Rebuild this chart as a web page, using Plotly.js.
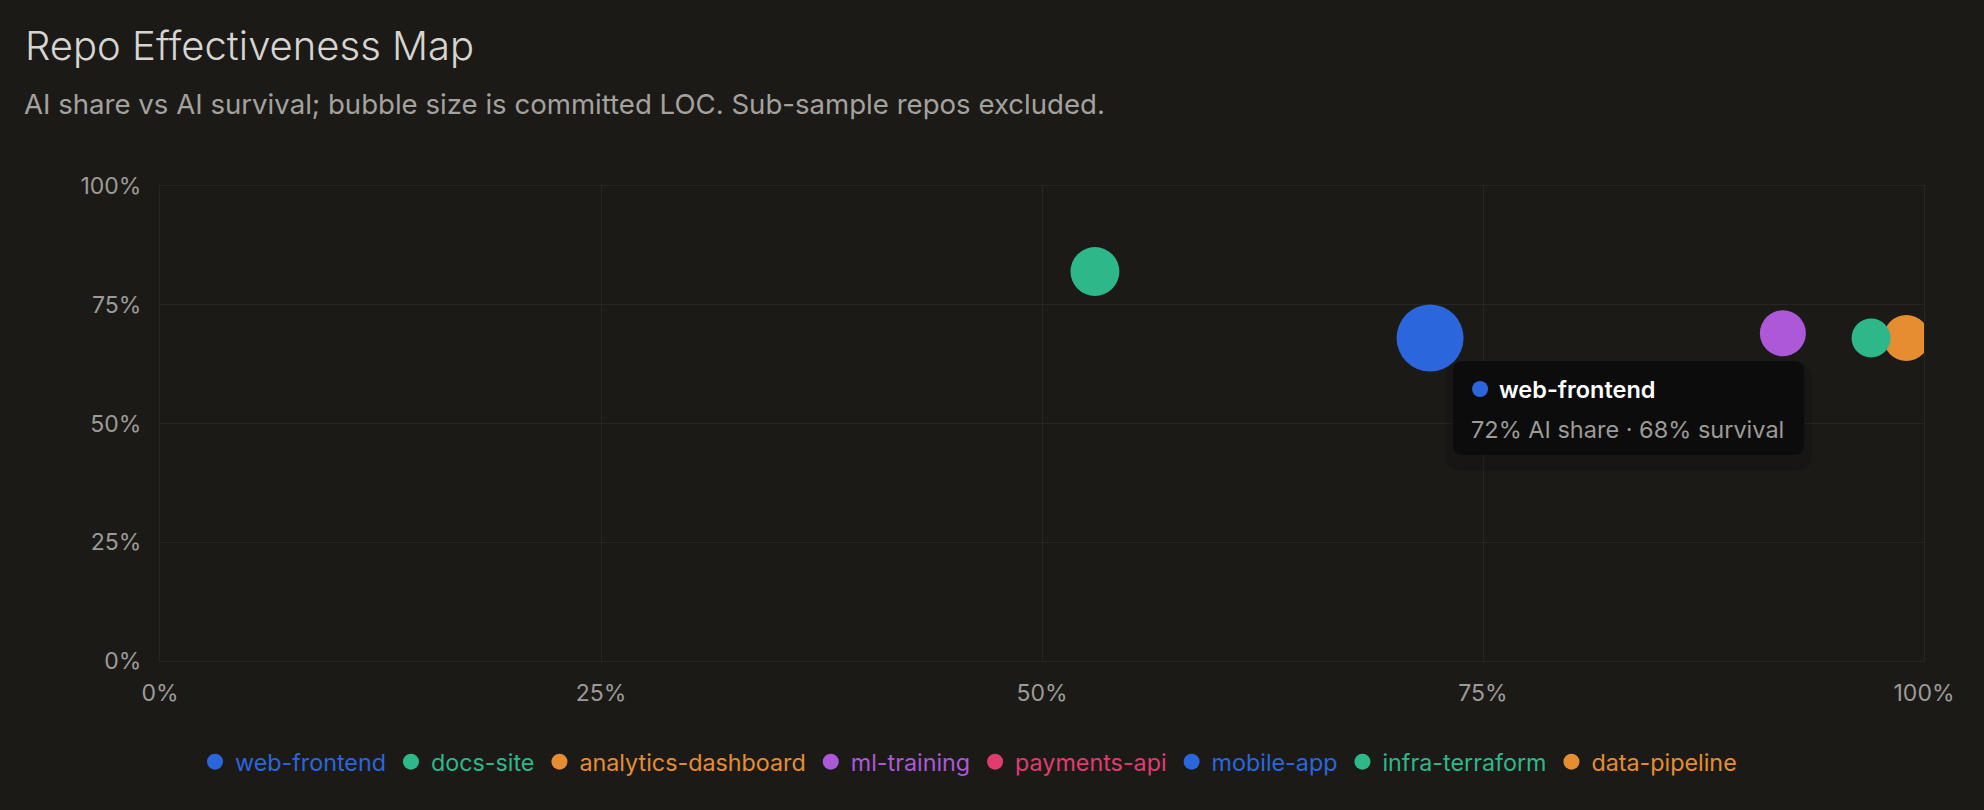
<!DOCTYPE html>
<html>
<head>
<meta charset="utf-8">
<script src="https://cdn.plot.ly/plotly-3.0.1.min.js"></script>
<style>
  html, body { margin: 0; padding: 0; background: #1b1a17; }
  #chart { width: 1984px; height: 810px; }
</style>
</head>
<body>
<div id="chart"></div>
<script>
// Repositories, in legend order
const repos = ['web-frontend', 'docs-site', 'analytics-dashboard', 'ml-training',
               'payments-api', 'mobile-app', 'infra-terraform', 'data-pipeline'];
// Share of committed lines written with AI (0..1); null = excluded sub-sample repo
const aiShare = [0.72, 0.53, null, 0.92, null, null, 0.97, 0.99];
// Share of AI-written lines that survived (0..1)
const aiSurvival = [0.68, 0.82, null, 0.69, null, null, 0.68, 0.68];
// Committed lines of code (bubble area)
const committedLoc = [180000, 96000, null, 85000, null, null, 61000, 85000];
const repoColors = ['#2b66dc', '#2eb88a', '#e68d32', '#ad58d8',
                    '#e03c70', '#2b66dc', '#2eb88a', '#e68d32'];
// Axis ticks
const tickValues = [0, 0.25, 0.5, 0.75, 1];
const tickLabels = ['0%', '25%', '50%', '75%', '100%'];
// Repo highlighted with a detail card
const focusRepo = 'web-frontend';

const FONT = 'Inter, "Noto Sans", sans-serif';
const BG = '#1b1a17';
const GRID = '#272622';
const MAX_BUBBLE = 67;     // diameter in px of the largest bubble
const LEGEND_DOT = 16;

const maxLoc = Math.max(...committedLoc.filter(v => v != null));
// Plotly area sizing: diameter = sqrt(2 * value / sizeref)
const sizeref = 2 * maxLoc / (MAX_BUBBLE * MAX_BUBBLE);

// Larger bubbles first so smaller ones sit on top
const order = repos.map((_, i) => i).sort((a, b) => (committedLoc[b] || 0) - (committedLoc[a] || 0));

const traces = order.map(i => {
  const hasPoint = aiShare[i] != null;
  return {
    type: 'scatter',
    mode: 'markers',
    name: '<span style="color:' + repoColors[i] + '">' + repos[i] + '</span>',
    legendrank: i + 1,
    x: [aiShare[i]],
    y: [aiSurvival[i]],
    marker: {
      color: repoColors[i],
      size: hasPoint ? [committedLoc[i]] : LEGEND_DOT,
      sizemode: 'area',
      sizeref: hasPoint ? sizeref : 1,
      line: { width: 0 },
      opacity: 1
    },
    hoverinfo: 'skip'
  };
});

// Detail card anchored to the focused repo's bubble (pixel offsets, y up)
const fi = repos.indexOf(focusRepo);
const fx = aiShare[fi], fy = aiSurvival[fi];
function roundRect(l, r, t, b, rad) {
  return 'M' + (l + rad) + ',' + t +
         ' L' + (r - rad) + ',' + t +
         ' Q' + r + ',' + t + ' ' + r + ',' + (t - rad) +
         ' L' + r + ',' + (b + rad) +
         ' Q' + r + ',' + b + ' ' + (r - rad) + ',' + b +
         ' L' + (l + rad) + ',' + b +
         ' Q' + l + ',' + b + ' ' + l + ',' + (b + rad) +
         ' L' + l + ',' + (t - rad) +
         ' Q' + l + ',' + t + ' ' + (l + rad) + ',' + t + ' Z';
}
const card = { l: 23, r: 374, t: -23, b: -117, rad: 10 };

const shapes = [
  {
    type: 'path', layer: 'above',
    xref: 'x', yref: 'y', xsizemode: 'pixel', ysizemode: 'pixel',
    xanchor: fx, yanchor: fy,
    path: roundRect(card.l - 8, card.r + 8, card.t - 2, card.b - 16, 16),
    fillcolor: 'rgba(0,0,0,0.12)', line: { width: 0 }
  },
  {
    type: 'path', layer: 'above',
    xref: 'x', yref: 'y', xsizemode: 'pixel', ysizemode: 'pixel',
    xanchor: fx, yanchor: fy,
    path: roundRect(card.l, card.r, card.t, card.b, card.rad),
    fillcolor: '#0c0c0c', line: { width: 0 }
  },
  {
    type: 'circle', layer: 'above',
    xref: 'x', yref: 'y', xsizemode: 'pixel', ysizemode: 'pixel',
    xanchor: fx, yanchor: fy,
    x0: 42, x1: 58, y0: -43, y1: -59,
    fillcolor: repoColors[fi], line: { width: 0 }
  }
];

const pct = v => Math.round(v * 100) + '%';
const annotations = [
  {
    xref: 'paper', yref: 'paper', x: (22 - 160) / 1764, y: (661 - 104) / 475,
    xanchor: 'left', yanchor: 'middle', showarrow: false,
    text: 'AI share vs AI survival; bubble size is committed LOC. Sub-sample repos excluded.',
    font: { family: FONT, size: 27.6, color: '#a3a29e' }
  },
  {
    xref: 'x', yref: 'y', x: fx, y: fy, xshift: 67, yshift: -51,
    xanchor: 'left', yanchor: 'middle', showarrow: false,
    text: repos[fi],
    font: { family: FONT, size: 23.5, color: '#ffffff', weight: 600 }
  },
  {
    xref: 'x', yref: 'y', x: fx, y: fy, xshift: 39, yshift: -91,
    xanchor: 'left', yanchor: 'middle', showarrow: false,
    text: pct(fx) + ' AI share · ' + pct(fy) + ' survival',
    font: { family: FONT, size: 23.5, color: '#9c9b98' }
  }
];

const axisCommon = {
  range: [0, 1],
  tickvals: tickValues,
  ticktext: tickLabels,
  showgrid: true,
  gridcolor: GRID,
  gridwidth: 1,
  zeroline: false,
  showline: true,
  mirror: true,
  linecolor: GRID,
  linewidth: 1,
  ticks: '',
  tickfont: { family: FONT, size: 23, color: '#9c9b98' },
  fixedrange: true
};

const layout = {
  width: 1984,
  height: 810,
  paper_bgcolor: BG,
  plot_bgcolor: BG,
  margin: { l: 160, r: 60, t: 186, b: 149 },
  title: {
    text: 'Repo Effectiveness Map',
    font: { family: FONT, size: 40, color: '#d6d5d2', weight: 300 },
    xref: 'container', yref: 'container',
    x: 25 / 1984, xanchor: 'left',
    y: 1 - 46 / 810, yanchor: 'middle'
  },
  xaxis: Object.assign({}, axisCommon, { ticklabelstandoff: 11 }),
  yaxis: Object.assign({}, axisCommon, { ticklabelstandoff: 13 }),
  showlegend: true,
  legend: {
    orientation: 'h',
    x: (195 - 160) / 1764, xanchor: 'left',
    y: (661 - 762) / 475, yanchor: 'middle',
    font: { family: FONT, size: 23.3, color: '#9c9b98' },
    itemsizing: 'trace',
    bgcolor: 'rgba(0,0,0,0)'
  },
  hovermode: false,
  shapes: shapes,
  annotations: annotations
};

Plotly.newPlot('chart', traces, layout, { displayModeBar: false, staticPlot: true });
</script>
</body>
</html>
